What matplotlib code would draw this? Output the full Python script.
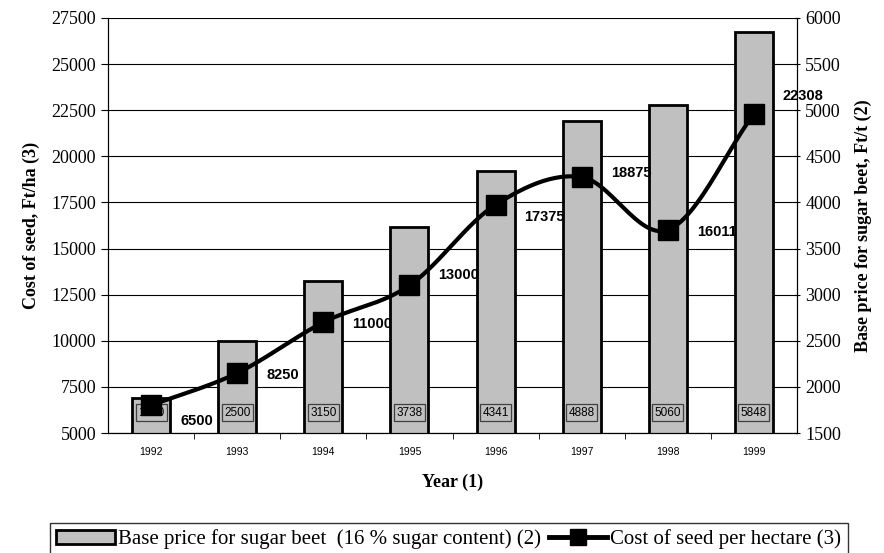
import numpy as np
import matplotlib
matplotlib.use('Agg')
import matplotlib.pyplot as plt
import matplotlib.transforms as mtransforms

# Data
years = ['1992', '1993', '1994', '1995', '1996', '1997', '1998', '1999']
beet_price = [1880, 2500, 3150, 3738, 4341, 4888, 5060, 5848]      # Ft/t (2), right axis
seed_cost = [6500, 8250, 11000, 13000, 17375, 18875, 16011, 22308]  # Ft/ha (3), left axis

# vertical nudges (pixels) for the line labels, as placed in the original
label_dy = [-16, -2, -2, 10, -12, 4, -2, 18]

serif = 'Liberation Serif'
sans = 'Liberation Sans'

fig = plt.figure(figsize=(8.84, 5.53), dpi=100)
ax = fig.add_axes([108 / 884, 1 - 433 / 553, 689 / 884, 415 / 553])
ax2 = ax.twinx()

x = np.arange(len(years))

# bars on the right axis (drawn below)
ax2.bar(x, beet_price, width=0.44, bottom=0, color='#c0c0c0', edgecolor='black',
        linewidth=2, zorder=2)
ax2.set_ylim(1500, 6000)
ax2.set_yticks(np.arange(1500, 6001, 500))
ax2.grid(axis='y', color='black', linewidth=0.8)
ax2.set_axisbelow(True)

# value boxes at the base of each bar
trans = mtransforms.blended_transform_factory(ax2.transData, ax2.transAxes)
for xi, v in zip(x, beet_price):
    ax2.text(xi, 0.049, str(v), transform=trans, ha='center', va='center',
             fontsize=8.5, family=sans, zorder=3,
             bbox=dict(boxstyle='square,pad=0.2', facecolor='#c0c0c0',
                       edgecolor='#404040', linewidth=0.9))

# smoothed line on the left axis (Catmull-Rom through the points)
def smooth(xs, ys, n=30):
    px = np.concatenate([[2 * xs[0] - xs[1]], xs, [2 * xs[-1] - xs[-2]]])
    py = np.concatenate([[2 * ys[0] - ys[1]], ys, [2 * ys[-1] - ys[-2]]])
    outx, outy = [], []
    t = np.linspace(0, 1, n)
    for i in range(1, len(px) - 2):
        for p, out in ((px, outx), (py, outy)):
            p0, p1, p2, p3 = p[i - 1], p[i], p[i + 1], p[i + 2]
            out.extend(0.5 * ((2 * p1) + (-p0 + p2) * t
                              + (2 * p0 - 5 * p1 + 4 * p2 - p3) * t ** 2
                              + (-p0 + 3 * p1 - 3 * p2 + p3) * t ** 3))
    return np.array(outx), np.array(outy)

sx, sy = smooth(x.astype(float), np.array(seed_cost, dtype=float))
ax.set_zorder(ax2.get_zorder() + 1)
ax.patch.set_visible(False)
ax.plot(sx, sy, color='black', linewidth=3, zorder=4)
ax.plot(x, seed_cost, linestyle='none', marker='s', markersize=15, color='black', zorder=5)

for xi, v, dy in zip(x, seed_cost, label_dy):
    ax.annotate(str(v), (xi, v), xytext=(29, dy), textcoords='offset pixels',
                ha='left', va='center', fontsize=10.5, fontweight='bold', family=sans)

ax.set_ylim(5000, 27500)
ax.set_yticks(np.arange(5000, 27501, 2500))
ax.set_xlim(-0.5, len(years) - 0.5)

# category ticks between bars
ax.set_xticks(x)
ax.set_xticklabels(years, fontsize=7.5, family=sans)
ax.tick_params(axis='x', length=0, pad=10)
ax.set_xticks(np.arange(0.5, len(years) - 0.5, 1), minor=True)
ax.tick_params(axis='x', which='minor', length=4, direction='out')

for a in (ax, ax2):
    for lab in a.get_yticklabels():
        lab.set_family(serif)
        lab.set_fontsize(13)
    a.spines['top'].set_visible(False)
ax.tick_params(axis='y', length=5, direction='out')
ax2.tick_params(axis='y', length=5, direction='inout')

ax.set_ylabel('Cost of seed, Ft/ha (3)', family=serif, fontsize=13, fontweight='bold', labelpad=8)
ax2.set_ylabel('Base price for sugar beet, Ft/t (2)', family=serif, fontsize=13,
               fontweight='bold', labelpad=10)
ax.set_xlabel('Year (1)', family=serif, fontsize=13, fontweight='bold', labelpad=12)

# legend handles
bar_handle = plt.Rectangle((0, 0), 1, 1, facecolor='#c0c0c0', edgecolor='black', linewidth=2)
line_handle, = ax.plot([], [], color='black', linewidth=3.5, marker='s', markersize=12)
handles = [bar_handle, line_handle]
labels = ['Base price for sugar beet  (16 % sugar content) (2)', 'Cost of seed per hectare (3)']
leg = fig.legend(handles, labels, loc='upper left', bbox_to_anchor=(50 / 884, 1 - 523 / 553),
                 ncol=2, prop={'family': serif, 'size': 15}, frameon=True, fancybox=False,
                 handlelength=2.8, handletextpad=0.15, columnspacing=0.4,
                 borderpad=0.3, borderaxespad=0)
leg.get_frame().set_edgecolor('black')
leg.get_frame().set_linewidth(1)

fig.savefig('out.png', dpi=100)
